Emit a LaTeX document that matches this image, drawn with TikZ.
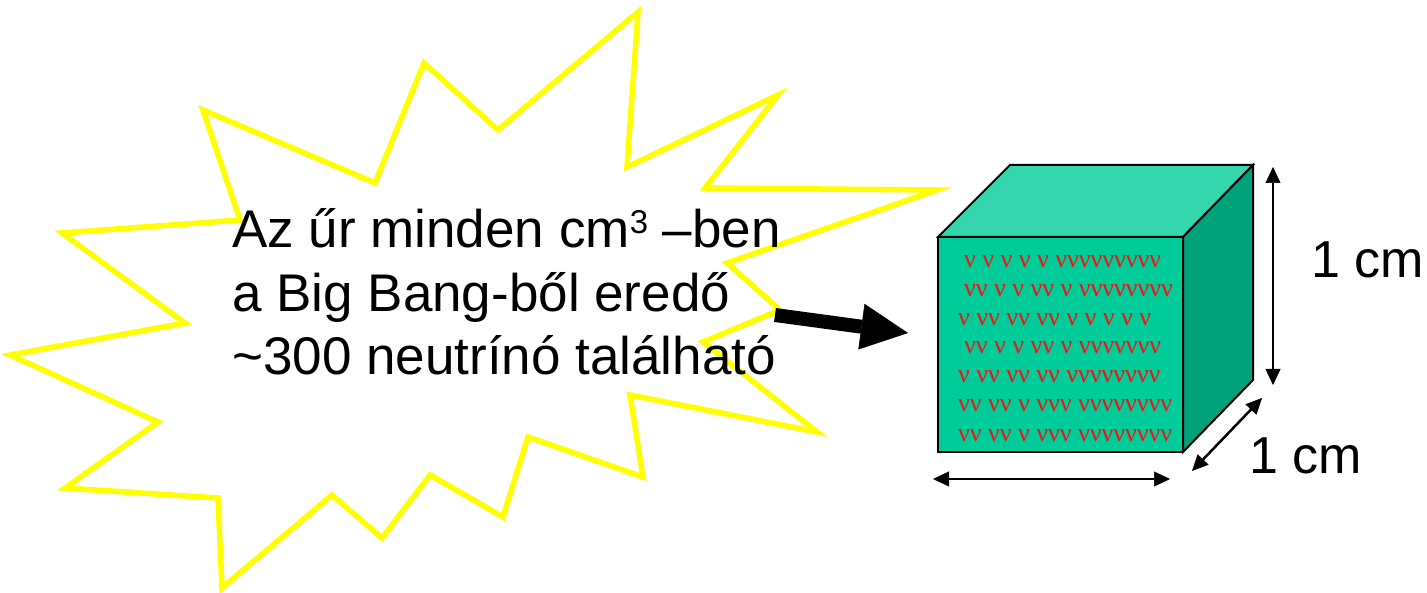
\documentclass[tikz,border=0pt]{standalone}
\usepackage{fontspec}
\setmainfont{Liberation Sans}
\newfontfamily\nufont{Liberation Serif}
\usetikzlibrary{arrows.meta}
\definecolor{burst}{RGB}{255,255,0}
\definecolor{cubetop}{RGB}{51,214,173}
\definecolor{cubefront}{RGB}{0,204,153}
\definecolor{cubeside}{RGB}{0,162,122}
\definecolor{nured}{RGB}{240,20,20}

\begin{document}
\begin{tikzpicture}[x=1pt,y=-1pt,
  burstline/.style={draw=burst,line width=5.5pt,line join=miter,miter limit=25},
  face/.style={draw=black,line width=2pt,line join=miter},
  bigtext/.style={anchor=base west,inner sep=0pt,font=\fontsize{53}{62}\selectfont},
  dimtext/.style={anchor=base west,inner sep=0pt,font=\fontsize{52}{60}\selectfont},
  nurow/.style={anchor=base west,inner sep=0pt,text=nured,font=\nufont\fontsize{26}{30}\selectfont},
  dimarrow/.style={line width=2.5pt,
    {Triangle[length=16pt,width=15pt,line width=0.5pt]}-{Triangle[length=16pt,width=15pt,line width=0.5pt]}},
  pointer/.style={line width=14pt,-{Triangle[length=47pt,width=46pt,line width=0.5pt]}}]
\useasboundingbox (0,0) rectangle (1427,593);

% explosion outline
\draw[burstline] (203,110) -- (375,183) -- (424,63) -- (498,130) -- (638,12)
  -- (627,167) -- (778,95) -- (705,188) -- (937,190) -- (727,263) -- (780,310)
  -- (703,342) -- (817,432) -- (630,395) -- (643,477) -- (528,437) -- (503,517)
  -- (430,475) -- (382,538) -- (332,495) -- (222,588) -- (218,498) -- (65,488)
  -- (158,422) -- (10,355) -- (185,323) -- (62,233) -- (240,220) -- cycle;

% message inside the burst
\node[bigtext] (line1) at (232,248) {Az űr minden cm\raisebox{14pt}{\fontsize{33}{33}\selectfont 3} –ben};
\node[bigtext] (line2) at (232,312) {a Big Bang-ből eredő};
\node[bigtext] (line3) at (232,375) {\textasciitilde 300 neutrínó található};

% cube faces
\filldraw[face,fill=cubetop] (938,237) -- (1010,165) -- (1253,165) -- (1183,237) -- cycle;
\filldraw[face,fill=cubeside] (1183,237) -- (1253,165) -- (1253,380) -- (1183,452) -- cycle;
\filldraw[face,fill=cubefront] (938,237) rectangle (1183,452);

% neutrinos on the front face
\node[nurow] (nu1) at (964,268) {ν ν ν ν ν ννννννννν};
\node[nurow] (nu2) at (964,297) {νν ν ν νν ν νννννννν};
\node[nurow] (nu3) at (958,326) {ν νν νν νν ν ν ν ν ν};
\node[nurow] (nu4) at (964,354) {νν ν ν νν ν ννννννν};
\node[nurow] (nu5) at (958,383) {ν νν νν νν νννννννν};
\node[nurow] (nu6) at (958,412) {νν νν ν ννν νννννννν};
\node[nurow] (nu7) at (958,441) {νν νν ν ννν νννννννν};

% pointer from the message to the cube
\coordinate (ptail) at (775,315);
\coordinate (phead) at (908,333);
\draw[pointer] (ptail) -- (phead);

% dimension arrows
\coordinate (vtop) at (1273,167);
\coordinate (vbot) at (1273,385);
\coordinate (dnear) at (1192,471);
\coordinate (dfar) at (1262,398);
\coordinate (hleft) at (933,479);
\coordinate (hright) at (1170,479);
\draw[dimarrow] (vtop) -- (vbot);
\draw[dimarrow] (dnear) -- (dfar);
\draw[dimarrow] (hleft) -- (hright);

\node[dimtext] (hlabel) at (1311,278) {1 cm};
\node[dimtext] (dlabel) at (1249,473) {1 cm};
\end{tikzpicture}
\end{document}
